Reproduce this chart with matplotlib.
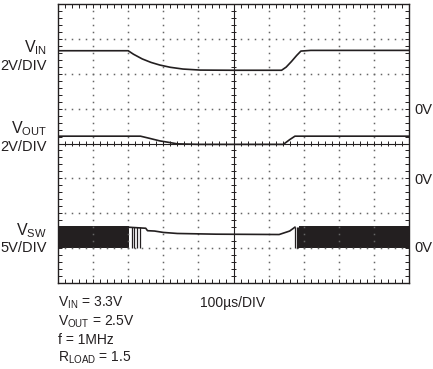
import numpy as np
import matplotlib.pyplot as plt
from matplotlib import font_manager

# scope settings (per division)
time_per_div = 100.0  # us
vin_scale, vout_scale, vsw_scale = 2.0, 2.0, 5.0  # V/DIV
vin_zero, vout_zero, vsw_zero = 5, 3, 1  # division of each 0V marker

# VIN trace (us, V)
t_vin = [0, 200, 215, 240, 265, 290, 320, 356, 405, 500, 637, 650, 665, 680, 692, 720, 1000]
v_vin = [3.32, 3.32, 3.12, 2.85, 2.65, 2.50, 2.37, 2.27, 2.21, 2.20, 2.20, 2.38, 2.70, 3.05, 3.30, 3.34, 3.34]

# VOUT trace (us, V)
t_vout = [0, 235, 260, 290, 320, 340, 400, 642, 660, 675, 1000]
v_vout = [2.42, 2.42, 2.30, 2.15, 2.05, 1.98, 1.95, 1.95, 2.22, 2.42, 2.42]

# VSW: switching bursts (us), single pulses (us), dropout level (us, V)
sw_bursts = [(0, 202), (688, 1000)]
sw_high, sw_low = 3.2, -0.05
sw_pulses = [210, 217, 224, 233, 676, 680, 685]
t_vsw = [200, 250, 255, 275, 300, 340, 450, 630, 645, 660, 675]
v_vsw = [3.0, 2.85, 2.5, 2.45, 2.25, 2.1, 2.0, 1.95, 2.2, 2.45, 3.0]

names = {f.name for f in font_manager.fontManager.ttflist}
family = 'Liberation Sans Narrow' if 'Liberation Sans Narrow' in names else 'Liberation Sans'
plt.rcParams['font.family'] = family
plt.rcParams['mathtext.fontset'] = 'custom'
plt.rcParams['mathtext.rm'] = family
plt.rcParams['mathtext.it'] = family

ink = '#231f20'

fig = plt.figure(figsize=(4.33, 3.69), dpi=100)
ax = fig.add_axes([58 / 433, 1 - 283 / 369, 351 / 433, 279 / 369])
ax.set_xlim(0, 10)
ax.set_ylim(0, 8)

# dotted graticule
for gx in range(1, 10):
    if gx == 5:
        continue
    ys = np.arange(0.2, 8, 0.2)
    ax.plot(np.full_like(ys, gx), ys, ls='none', marker='s', ms=1.1, mew=0, color='#666666')
for gy in range(1, 8):
    if gy == 4:
        continue
    xs = np.arange(0.2, 10, 0.2)
    ax.plot(xs, np.full_like(xs, gy), ls='none', marker='s', ms=1.1, mew=0, color='#666666')

# centre cross with minor ticks
ax.axvline(5, color=ink, lw=0.8)
ax.axhline(4, color=ink, lw=0.8)
tk = np.arange(0.2, 10, 0.2)
ax.vlines(tk, 4 - 0.08, 4 + 0.08, color=ink, lw=0.7)
tk = np.arange(0.2, 8, 0.2)
ax.hlines(tk, 5 - 0.07, 5 + 0.07, color=ink, lw=0.7)

# frame ticks
ax.set_xticks(np.arange(0, 10.01, 0.2))
ax.set_yticks(np.arange(0, 8.01, 0.2))
ax.tick_params(direction='in', length=3, width=0.7, color=ink, top=True, right=True,
               labelbottom=False, labelleft=False)
for s in ax.spines.values():
    s.set_color(ink)
    s.set_linewidth(1.0)

def to_div(t, v, zero, scale):
    return np.asarray(t) / time_per_div, zero + np.asarray(v) / scale

x, y = to_div(t_vin, v_vin, vin_zero, vin_scale)
ax.plot(x, y, color=ink, lw=1.2)
x, y = to_div(t_vout, v_vout, vout_zero, vout_scale)
ax.plot(x, y, color=ink, lw=1.2)

for t0, t1 in sw_bursts:
    ax.fill_between([t0 / time_per_div, t1 / time_per_div],
                    vsw_zero + sw_low / vsw_scale, vsw_zero + sw_high / vsw_scale,
                    color=ink, lw=0)
ax.vlines(np.array(sw_pulses) / time_per_div, vsw_zero + sw_low / vsw_scale,
          vsw_zero + 3.0 / vsw_scale, color=ink, lw=0.9)
x, y = to_div(t_vsw, v_vsw, vsw_zero, vsw_scale)
ax.plot(x, y, color=ink, lw=1.2)

# labels (figure pixel positions)
def ftext(px, py, s, **kw):
    fig.text(px / 433, 1 - py / 369, s, color=ink, **kw)

big = 10.5
ftext(47, 52, r'$\mathregular{V_{IN}}$', fontsize=big + 1, ha='right', va='baseline')
ftext(47, 70, '2V/DIV', fontsize=big, ha='right', va='baseline')
ftext(47, 133, r'$\mathregular{V_{OUT}}$', fontsize=big + 1, ha='right', va='baseline')
ftext(47, 151, '2V/DIV', fontsize=big, ha='right', va='baseline')
ftext(47, 235, r'$\mathregular{V_{SW}}$', fontsize=big + 1, ha='right', va='baseline')
ftext(47, 252, '5V/DIV', fontsize=big, ha='right', va='baseline')
for py in (114, 184, 252):
    ftext(414, py, '0V', fontsize=big, ha='left', va='baseline')

small = 10
ftext(58, 307, r'$\mathregular{V_{IN}}$ = 3.3V', fontsize=small, va='baseline')
ftext(58, 326, r'$\mathregular{V_{OUT}}$ = 2.5V', fontsize=small, va='baseline')
ftext(58, 344, 'f = 1MHz', fontsize=small, va='baseline')
ftext(58, 362, r'$\mathregular{R_{LOAD}}$ = 1.5', fontsize=small, va='baseline')
ftext(200, 307, '100µs/DIV', fontsize=small, va='baseline')

fig.savefig('out.png', dpi=100)
